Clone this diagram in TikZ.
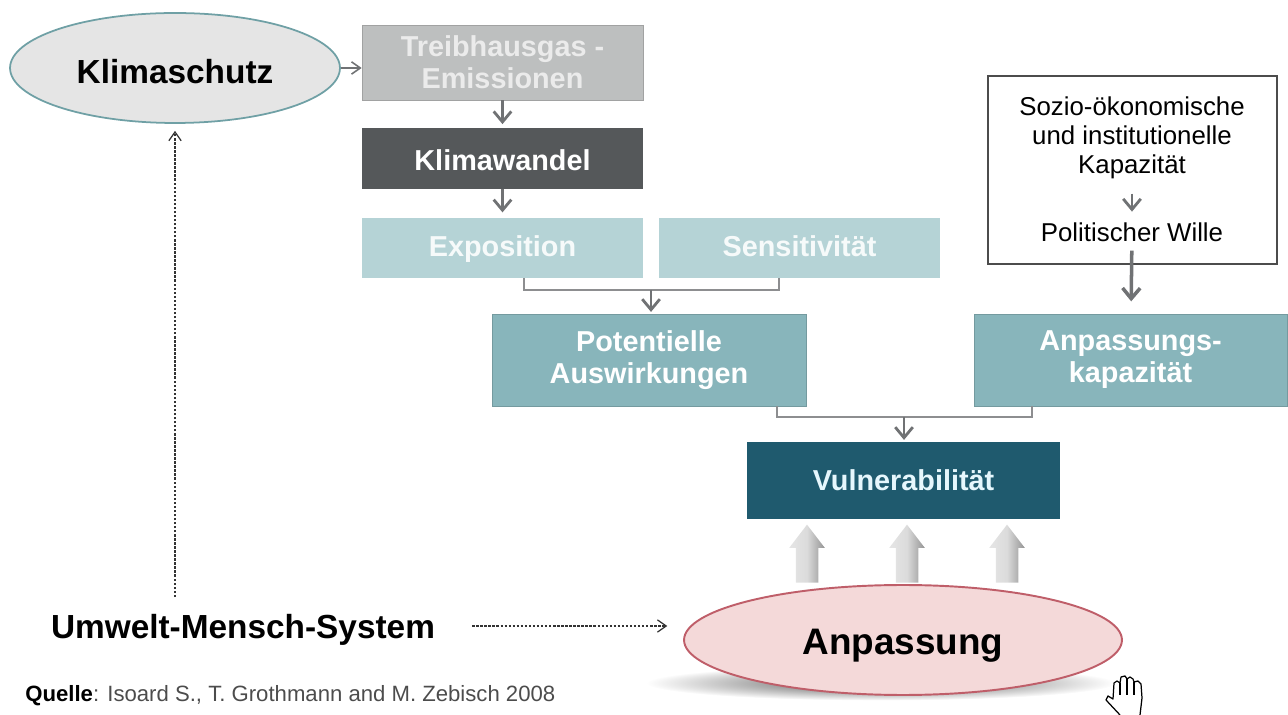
\documentclass[tikz,border=0pt]{standalone}
\usepackage{xcolor}
\usepackage{fontspec}
\setmainfont{Liberation Sans}
\usetikzlibrary{arrows.meta,shapes.geometric,shapes.arrows}

\definecolor{greybox}{HTML}{BDBFBF}
\definecolor{darkbox}{HTML}{55585A}
\definecolor{palebox}{HTML}{B5D3D6}
\definecolor{midbox}{HTML}{88B5BB}
\definecolor{deepbox}{HTML}{1F5A6E}
\definecolor{arrowgrey}{HTML}{707274}
\definecolor{rosefill}{HTML}{F4D9D9}
\definecolor{roseline}{HTML}{BF5E69}
\definecolor{tealline}{HTML}{6FA0A5}

\tikzset{
  box/.style={rectangle,inner sep=0pt,align=center,text=white,
    font=\fontsize{16.4}{18.2}\selectfont\bfseries},
  flow/.style={draw=arrowgrey,line width=1.6pt,-{Straight Barb[length=6pt,width=10pt]}},
  bracket/.style={draw=arrowgrey!80,line width=0.8pt},
  dotted line/.style={draw=black!80,line width=0.7pt,dash pattern=on 1.4pt off 0.9pt,
    -{Straight Barb[length=5pt,width=7pt]}},
  upblock/.style={single arrow,single arrow head extend=3.75pt,single arrow tip angle=75,
    minimum height=33pt,inner xsep=0pt,inner ysep=6.2pt,rotate=90,
    left color=black!10,right color=black!42,middle color=black!14},
}

\begin{document}
\begin{tikzpicture}[x=0.02cm,y=-0.02cm]
  \useasboundingbox (0,0) rectangle (1288,715);

  \node[box,draw=greybox!85!black,fill=greybox,text=white!92!black,minimum width=5.62cm,minimum height=1.5cm]
    (treibhaus) at (502.5,62.5) {Treibhausgas -\\Emissionen};
  \node[box,fill=darkbox,text height=14pt,text depth=0pt,minimum width=5.62cm,minimum height=1.22cm]
    (klimawandel) at (502.5,158.5) {Klimawandel};
  \node[box,fill=palebox,text=white!88!palebox,text height=13pt,text depth=3.5pt,minimum width=5.62cm,minimum height=1.2cm]
    (exposition) at (502.5,248) {Exposition};
  \node[box,fill=palebox,text=white!88!palebox,text height=13pt,text depth=3.5pt,minimum width=5.62cm,minimum height=1.2cm]
    (sensitiv) at (799.5,248) {Sensitivität};
  \node[box,draw=midbox!85!black,fill=midbox,minimum width=6.28cm,minimum height=1.84cm]
    (potentiell) at (649,360) {Potentielle\\Auswirkungen};
  \node[box,draw=midbox!85!black,fill=midbox,minimum width=6.26cm,minimum height=1.84cm]
    (kapazitaet) at (1130.5,360) {Anpassungs-\\kapazität};
  \node[box,fill=deepbox,text=white!90!cyan,minimum width=6.26cm,minimum height=1.54cm]
    (vulnerab) at (903.5,480.5) {Vulnerabilität};

  % white box with its two texts
  \node[rectangle,draw=black!70,line width=0.8pt,fill=white,minimum width=5.78cm,minimum height=3.76cm]
    (kasten) at (1132.5,170) {};
  \node[align=center,inner sep=0pt,font=\fontsize{14.7}{16.6}\selectfont]
    (sozio) at (1132,138) {Sozio-ökonomische\\und institutionelle\\Kapazität};
  \node[inner sep=0pt,font=\fontsize{14.7}{17}\selectfont] (wille) at (1132,232) {Politischer Wille};

  % ellipses
  \node[ellipse,inner sep=0pt,minimum width=9.4cm,minimum height=0.7cm,shading=radial,
    inner color=black!70,outer color=white] (schatten) at (881,683) {};
  \node[ellipse,draw=tealline,line width=1pt,fill=black!10,inner sep=0pt,minimum width=6.6cm,
    minimum height=2.2cm,text height=18pt,font=\fontsize{19}{21}\selectfont\bfseries] (klimaschutz) at (175,68) {Klimaschutz};
  \node[ellipse,draw=roseline,line width=1.1pt,fill=rosefill,inner sep=0pt,minimum width=8.76cm,
    minimum height=2.2cm,text height=21pt,font=\fontsize{21}{23}\selectfont\bfseries] (anpassung) at (903,640) {Anpassung};

  % free texts
  \node[inner sep=0pt,text height=18.5pt,font=\fontsize{19}{21}\selectfont\bfseries] (umwelt) at (243,626) {Umwelt-Mensch-System};
  \node[anchor=west,inner sep=0pt,text=black!70,font=\fontsize{12.6}{14}\selectfont] (quelle) at (25,696)
    {\textbf{\textcolor{black}{Quelle}}: Isoard S., T. Grothmann and M. Zebisch 2008};

  % small arrows
  \draw[flow,line width=0.9pt,-{Straight Barb[length=5pt,width=7pt]}] (klimaschutz.east) -- (klimaschutz.east -| treibhaus.west);
  \draw[flow,shorten >=2pt] (treibhaus) -- (klimawandel);
  \draw[flow,shorten >=3pt] (klimawandel) -- (exposition);
  \draw[flow,shorten <=8pt,shorten >=6pt] (sozio) -- (wille);
  \draw[flow,line width=2pt,shorten <=5pt,shorten >=7pt] (wille) -- (kapazitaet);

  % brackets
  \coordinate (b1) at (524,290);
  \coordinate (b2) at (779,290);
  \coordinate (b3) at (777,417);
  \coordinate (b4) at (1032,417);
  \coordinate (m1) at (651,290);
  \coordinate (m2) at (904,417);
  \draw[bracket] (b1 |- exposition.south) -- (b1) -- (b2) -- (b2 |- sensitiv.south);
  \draw[bracket] (b3 |- potentiell.south) -- (b3) -- (b4) -- (b4 |- kapazitaet.south);
  \draw[flow,shorten >=1pt] (m1) -- (m1 |- potentiell.north);
  \draw[flow,shorten >=1pt] (m2) -- (m2 |- vulnerab.north);

  % dashed arrows
  \draw[dotted line,shorten <=5pt,shorten >=4pt] (umwelt.north -| klimaschutz.south) -- (klimaschutz.south);
  \draw[dotted line,shorten <=21pt,shorten >=9pt] (umwelt.east) -- (umwelt.east -| anpassung.west);

  % block arrows
  \foreach \x/\n in {807/a,907/b,1007/c}
    \node[upblock] (block\n) at (\x,561) {};

  % hand
  \draw[black,line width=0.7pt,fill=white,line join=round]
    (1120,715) -- (1106,700) -- (1108,696) -- (1113,699) -- (1114,683) -- (1117,681) -- (1120,683)
    -- (1121,677) -- (1125,676) -- (1127,679) -- (1130,677) -- (1133,679) -- (1134,682) -- (1138,681)
    -- (1141,684) -- (1142,698) -- (1140,715);
  \draw[black,line width=0.6pt] (1120,683) -- (1120,695) (1127,679) -- (1127,695) (1134,682) -- (1134,695);
\end{tikzpicture}
\end{document}
